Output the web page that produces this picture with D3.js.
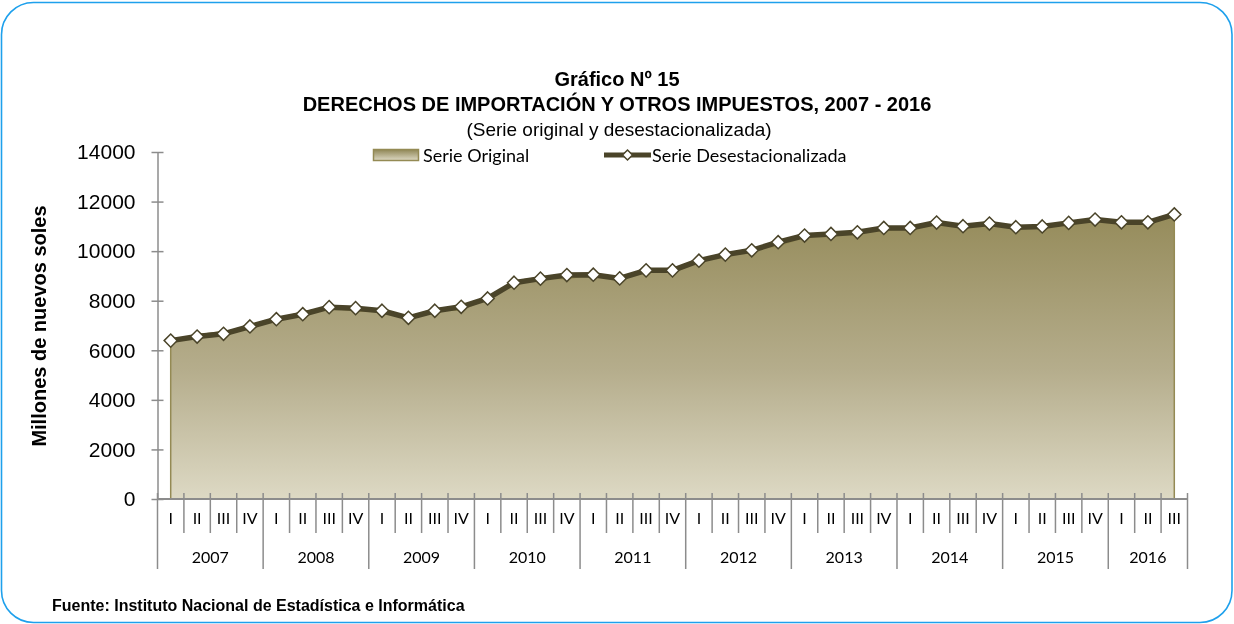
<!DOCTYPE html>
<html lang="es">
<head>
<meta charset="utf-8">
<script src="https://cdn.jsdelivr.net/npm/d3@7/dist/d3.min.js"></script>
<style>
  html, body { margin: 0; padding: 0; background: #ffffff; }
  svg { display: block; will-change: transform; }
  svg text { -webkit-font-smoothing: antialiased; }
</style>
</head>
<body>
<svg id="chart" width="1234" height="624"></svg>
<script>
// Años y trimestres (eje de categorías en dos niveles)
const years = ["2007", "2008", "2009", "2010", "2011", "2012", "2013", "2014", "2015", "2016"];
const quarters = ["I", "II", "III", "IV"];
const lastYearQuarters = 3;

// Millones de nuevos soles
const serieOriginal = [
  6330, 6620, 6760, 6900,
  7240, 7560, 7720, 7580,
  7560, 7330, 7640, 7620,
  8100, 8800, 8940, 8880,
  9080, 8850, 9290, 9120,
  9590, 9920, 10090, 10200,
  10580, 10780, 10790, 10810,
  10950, 11170, 11060, 11030,
  10990, 11000, 11180, 11240,
  11220, 11220, 11440
];
const serieDesestacionalizada = [
  6390, 6555, 6665, 6960,
  7255, 7455, 7740, 7700,
  7595, 7310, 7595, 7755,
  8090, 8725, 8890, 9035,
  9050, 8900, 9225, 9225,
  9615, 9860, 10035, 10360,
  10630, 10695, 10760, 10935,
  10935, 11155, 11005, 11115,
  10965, 10995, 11140, 11275,
  11165, 11165, 11480
];
const yTicks = [0, 2000, 4000, 6000, 8000, 10000, 12000, 14000];

const titulo1 = "Gráfico Nº 15";
const titulo2 = "DERECHOS DE IMPORTACIÓN Y OTROS IMPUESTOS, 2007 - 2016";
const titulo3 = "(Serie original y desestacionalizada)";
const ejeY = "Millones de nuevos soles";
const fuente = "Fuente: Instituto Nacional de Estadística e Informática";

// Build category keys
const cats = [];
years.forEach((yr, i) => {
  const n = i === years.length - 1 ? lastYearQuarters : quarters.length;
  for (let q = 0; q < n; q++) cats.push({ key: yr + "-" + quarters[q], year: yr, q: quarters[q] });
});
const rows = cats.map((c, i) => ({ ...c, orig: serieOriginal[i], desest: serieDesestacionalizada[i] }));

const svg = d3.select("#chart");
const W = 1234, H = 624;
const plot = { left: 157.5, right: 1187.5, top: 152, bottom: 499 };
const catFont = "Lato, 'Open Sans', 'Liberation Sans', sans-serif";

// Card border
svg.append("rect")
  .attr("x", 1.5).attr("y", 2.5)
  .attr("width", W - 3.5).attr("height", H - 4)
  .attr("rx", 32).attr("ry", 32)
  .attr("fill", "#ffffff")
  .attr("stroke", "#1ea0ec").attr("stroke-width", 1.6);

// Gradients
const defs = svg.append("defs");
const grad = defs.append("linearGradient")
  .attr("id", "areaGrad").attr("gradientUnits", "userSpaceOnUse")
  .attr("x1", 0).attr("x2", 0).attr("y1", plot.top + 60).attr("y2", plot.bottom);
grad.append("stop").attr("offset", "0%").attr("stop-color", "#958b5a");
grad.append("stop").attr("offset", "55%").attr("stop-color", "#b5ad8c");
grad.append("stop").attr("offset", "100%").attr("stop-color", "#ddd9c4");

const legGrad = defs.append("linearGradient")
  .attr("id", "legGrad").attr("x1", 0).attr("x2", 0).attr("y1", 0).attr("y2", 1);
legGrad.append("stop").attr("offset", "0%").attr("stop-color", "#8f8655");
legGrad.append("stop").attr("offset", "100%").attr("stop-color", "#ddd9c4");

// Scales
const x = d3.scaleBand().domain(rows.map(d => d.key)).range([plot.left, plot.right]).padding(0);
const bw = x.bandwidth();
const cx = d => x(d.key) + bw / 2;
const y = d3.scaleLinear().domain([0, 14000]).range([plot.bottom, plot.top]);

// Titles
const tg = svg.append("g").attr("text-anchor", "middle");
tg.append("text").attr("x", 617).attr("y", 86)
  .attr("font-family", "'Liberation Sans Narrow', 'Arial Narrow', 'Liberation Sans', Arial, sans-serif")
  .attr("font-weight", "bold").attr("font-size", 20).attr("fill", "#000").text(titulo1);
tg.append("text").attr("x", 617).attr("y", 111)
  .attr("font-family", "'Liberation Sans Narrow', 'Arial Narrow', 'Liberation Sans', Arial, sans-serif")
  .attr("font-weight", "bold").attr("font-size", 20).attr("fill", "#000").text(titulo2);
tg.append("text").attr("x", 619).attr("y", 136)
  .attr("font-family", "'Liberation Sans', Arial, sans-serif")
  .attr("font-size", 19).attr("fill", "#000").text(titulo3);

// Area (serie original)
const area = d3.area()
  .x(cx).y0(plot.bottom).y1(d => y(d.orig));
svg.append("path").datum(rows)
  .attr("d", area)
  .attr("fill", "url(#areaGrad)")
  .attr("stroke", "#948a54").attr("stroke-width", 1.5);

// Y axis
const yAxis = svg.append("g")
  .attr("transform", `translate(${plot.left},0)`)
  .call(d3.axisLeft(y).tickValues(yTicks).tickSize(0).tickPadding(22).tickFormat(d3.format("d")));
yAxis.select(".domain").attr("stroke", "#8c8c8c").attr("stroke-width", 1.5);
yAxis.selectAll(".tick line").remove();
yAxis.selectAll(".tick").append("line")
  .attr("x1", -6).attr("x2", 6)
  .attr("stroke", "#8c8c8c").attr("stroke-width", 1.5);
yAxis.selectAll(".tick text")
  .attr("font-family", "'Liberation Sans', Arial, sans-serif")
  .attr("font-size", 21).attr("fill", "#000");

// X axis: quarter labels
const xAxis = svg.append("g")
  .attr("transform", `translate(0,${plot.bottom})`)
  .call(d3.axisBottom(x).tickSize(0).tickPadding(14).tickFormat(k => k.split("-")[1]));
xAxis.select(".domain").remove();
xAxis.selectAll(".tick text")
  .attr("font-family", catFont)
  .attr("font-size", 16).attr("fill", "#000");

// Baseline
svg.append("line")
  .attr("x1", plot.left).attr("x2", plot.right)
  .attr("y1", plot.bottom).attr("y2", plot.bottom)
  .attr("stroke", "#8c8c8c").attr("stroke-width", 2);

// Category separators
const sepG = svg.append("g").attr("stroke", "#8c8c8c").attr("stroke-width", 1.5);
rows.forEach(d => {
  const isYearStart = d.q === "I";
  sepG.append("line")
    .attr("x1", x(d.key)).attr("x2", x(d.key))
    .attr("y1", plot.bottom - 6).attr("y2", isYearStart ? 569 : 533);
});
sepG.append("line")
  .attr("x1", plot.right).attr("x2", plot.right)
  .attr("y1", plot.bottom - 6).attr("y2", 569);

// Year labels
const yearG = svg.append("g")
  .attr("font-family", catFont)
  .attr("font-size", 16).attr("text-anchor", "middle").attr("fill", "#000");
years.forEach(yr => {
  const inYear = rows.filter(d => d.year === yr);
  const x0 = x(inYear[0].key), x1 = x(inYear[inYear.length - 1].key) + bw;
  yearG.append("text").attr("x", (x0 + x1) / 2).attr("y", 563).text(yr);
});

// Line (serie desestacionalizada)
const line = d3.line().x(cx).y(d => y(d.desest));
svg.append("path").datum(rows)
  .attr("d", line)
  .attr("fill", "none")
  .attr("stroke", "#4a4429").attr("stroke-width", 5.5)
  .attr("stroke-linejoin", "round");

const diamond = d3.symbol().type(d3.symbolDiamond2).size(110);
svg.append("g").selectAll("path").data(rows).join("path")
  .attr("transform", d => `translate(${cx(d)},${y(d.desest)})`)
  .attr("d", diamond)
  .attr("fill", "#ffffff")
  .attr("stroke", "#4a4429").attr("stroke-width", 1.5);

// Legend
const lg = svg.append("g");
lg.append("rect").attr("x", 373.5).attr("y", 149.5).attr("width", 45).attr("height", 11)
  .attr("fill", "url(#legGrad)").attr("stroke", "#948a54").attr("stroke-width", 1.5);
lg.append("text").attr("x", 423).attr("y", 162)
  .attr("font-family", catFont)
  .attr("font-size", 18).attr("fill", "#000").text("Serie Original");
lg.append("line").attr("x1", 604).attr("x2", 651).attr("y1", 155).attr("y2", 155)
  .attr("stroke", "#4a4429").attr("stroke-width", 5);
lg.append("path").attr("transform", "translate(627.5,155)").attr("d", d3.symbol().type(d3.symbolDiamond2).size(64))
  .attr("fill", "#fff").attr("stroke", "#4a4429").attr("stroke-width", 1.5);
lg.append("text").attr("x", 652).attr("y", 162)
  .attr("font-family", catFont)
  .attr("font-size", 18).attr("fill", "#000").text("Serie Desestacionalizada");

// Y axis title
svg.append("text")
  .attr("transform", "translate(46,326) rotate(-90)")
  .attr("text-anchor", "middle")
  .attr("font-family", "'Liberation Sans', Arial, sans-serif")
  .attr("font-weight", "bold").attr("font-size", 20).attr("fill", "#000")
  .text(ejeY);

// Source
svg.append("text").attr("x", 52).attr("y", 611)
  .attr("font-family", "'Liberation Sans', Arial, sans-serif")
  .attr("font-weight", "bold").attr("font-size", 16).attr("fill", "#000").text(fuente);
</script>
</body>
</html>
